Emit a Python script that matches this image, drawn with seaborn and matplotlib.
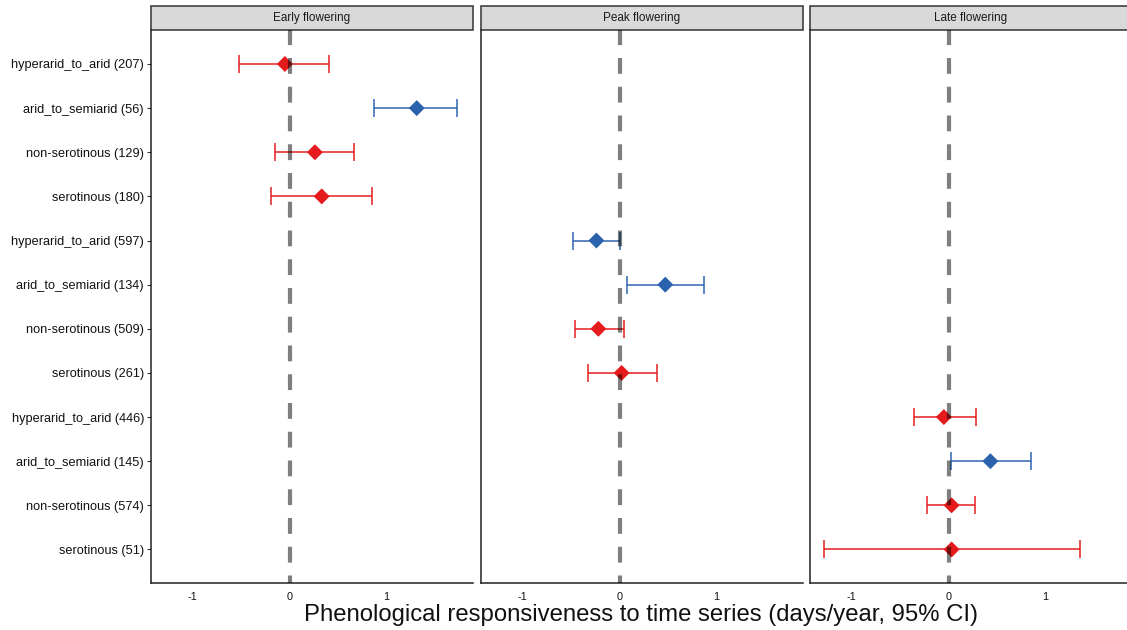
import numpy as np
import pandas as pd
import matplotlib
matplotlib.use("Agg")
import matplotlib.pyplot as plt
import seaborn as sns
from matplotlib.patches import Rectangle

# ---- data ----
panels = ["Early flowering", "Peak flowering", "Late flowering"]
row_labels = [
    "hyperarid_to_arid (207)", "arid_to_semiarid (56)", "non-serotinous (129)", "serotinous (180)",
    "hyperarid_to_arid (597)", "arid_to_semiarid (134)", "non-serotinous (509)", "serotinous (261)",
    "hyperarid_to_arid (446)", "arid_to_semiarid (145)", "non-serotinous (574)", "serotinous (51)",
]
row_panel = ["Early flowering"] * 4 + ["Peak flowering"] * 4 + ["Late flowering"] * 4
estimate = [-0.05, 1.31, 0.26, 0.33,
            -0.24, 0.47, -0.22, 0.02,
            -0.05, 0.43, 0.03, 0.03]
ci_low = [-0.52, 0.87, -0.15, -0.19,
          -0.48, 0.08, -0.46, -0.33,
          -0.36, 0.02, -0.22, -1.29]
ci_high = [0.41, 1.73, 0.66, 0.85,
           0.00, 0.87, 0.04, 0.38,
           0.28, 0.85, 0.27, 1.35]
significant = ["no", "yes", "no", "no",
               "yes", "yes", "no", "no",
               "no", "yes", "no", "no"]

palette = {"no": "#E41A1C", "yes": "#2B62AE"}

df = pd.DataFrame({
    "label": row_labels, "panel": row_panel, "est": estimate,
    "lo": ci_low, "hi": ci_high, "sig": significant,
})
df["pos"] = [row_labels.index(l) for l in df["label"]]

sns.set_style("white")
plt.rcParams["font.family"] = ["Liberation Sans", "DejaVu Sans"]

W, H = 1127, 630
fig, axes = plt.subplots(1, 3, figsize=(W / 100, H / 100), dpi=100, sharey=True)
lefts = [151, 481, 810]
pw = 322
top_px, bot_px = 30, 583
for ax, lx in zip(axes, lefts):
    ax.set_position([lx / W, 1 - bot_px / H, pw / W, (bot_px - top_px) / H])

for ax, pname in zip(axes, panels):
    sub = df[df["panel"] == pname]
    for _, r in sub.iterrows():
        ax.errorbar(r["est"], r["pos"], xerr=[[r["est"] - r["lo"]], [r["hi"] - r["est"]]],
                    fmt="none", ecolor=palette[r["sig"]], elinewidth=1.2, alpha=0.9,
                    capsize=6.3, capthick=1.2, zorder=2)
    sns.scatterplot(data=sub, x="est", y="pos", hue="sig", palette=palette,
                    marker="D", s=66, edgecolor="none", legend=False, ax=ax, zorder=3)
    ax.axvline(0, color="black", alpha=0.5, lw=3, linestyle=(2.0, (3.8, 3.1)), zorder=4)
    ax.set_xlim(-1.43, 1.89)
    ax.set_xticks([-1, 0, 1])
    ax.set_xticklabels(["-1", "0", "1"], fontsize=7.8, color="#111111")
    ax.set_xlabel("")
    ax.set_ylabel("")
    for s in ["top", "right"]:
        ax.spines[s].set_visible(False)
    for s in ["left", "bottom"]:
        ax.spines[s].set_color("#222222")
        ax.spines[s].set_linewidth(1.1)
    ax.tick_params(axis="x", length=0, pad=6.5)
    ax.tick_params(axis="y", length=3, width=0.8, color="#333333", pad=2,
                   left=(ax is axes[0]))
    # facet strip
    h = 24 / (bot_px - top_px)
    ax.add_patch(Rectangle((0, 1.0), 1, h, transform=ax.transAxes, clip_on=False,
                           facecolor="#D9D9D9", edgecolor="#333333", lw=1.1))
    ax.text(0.5, 1.0 + h / 2, pname, transform=ax.transAxes, ha="center", va="center",
            fontsize=8.5, color="#1a1a1a")

axes[0].set_yticks(range(len(row_labels)))
axes[0].set_yticklabels(row_labels, fontsize=9.2, color="#111111")
axes[0].set_ylim(11.76, -0.77)

fig.text(0.569, 1 - 621 / H, "Phenological responsiveness to time series (days/year, 95% CI)",
         ha="center", va="baseline", fontsize=17.2, color="#111111")

fig.savefig("out.png", dpi=100)
